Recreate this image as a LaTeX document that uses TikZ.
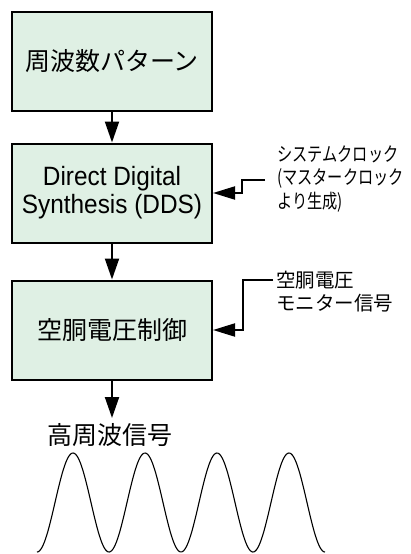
\documentclass[tikz,border=0pt]{standalone}
\usepackage{fontspec}
\setmainfont{Noto Sans CJK JP}
\newfontfamily\latinc[FakeStretch=0.92]{Liberation Sans}
\newfontfamily\cjkc[FakeStretch=0.78]{Noto Sans CJK JP}
\usetikzlibrary{arrows.meta}
\definecolor{boxfill}{RGB}{223,240,228}
\tikzset{
  blk/.style={draw=black, line width=2pt, fill=boxfill, minimum width=200pt, minimum height=99pt, inner sep=0pt, align=center, font=\fontsize{25}{30}\selectfont},
  arr/.style={line width=2pt, -{Triangle[length=21pt,width=14pt]}},
  sidearr/.style={line width=2pt, -{Triangle[length=22pt,width=13pt]}},
  lbl/.style={inner sep=0pt, align=left, anchor=west}
}
\begin{document}
\begin{tikzpicture}[x=1pt,y=-1pt]
\useasboundingbox (0,0) rectangle (410,554);
\node[blk] (b1) at (112,61.5) {周波数パターン};
\node[blk, font=\latinc\fontsize{26.5}{28}\selectfont] (b2) at (112,193) {Direct Digital\\Synthesis (DDS)};
\node[blk] (b3) at (112,330) {空胴電圧制御};
\node[inner sep=0pt, font=\fontsize{25}{30}\selectfont] (out) at (110,435) {高周波信号};
\coordinate (o) at (112,418);
\draw[arr] (b1.south) -- (b2.north);
\draw[arr] (b2.south) -- (b3.north);
\draw[arr] (b3.south) -- (o);
% side input 1
\coordinate (c1) at (265,180);
\coordinate (k1) at (242,193);
\draw[sidearr] (c1) -| (k1) -- (b2.east);
\node[lbl, font=\cjkc\fontsize{19.5}{23.5}\selectfont] (t1) at (277,179) {システムクロック\\(マスタークロック\\より生成)};
% side input 2
\coordinate (c2) at (273,280);
\coordinate (k2) at (243,330);
\draw[sidearr] (c2) -| (k2) -- (b3.east);
\node[lbl, font=\fontsize{19.5}{23}\selectfont] (t2) at (276,291.5) {空胴電圧\\モニター信号};
% sine wave
\draw[line width=1.1pt] plot[domain=37:325, samples=240, smooth] (\x,{502.5+49.5*cos(5*(\x-37))});
\end{tikzpicture}
\end{document}
